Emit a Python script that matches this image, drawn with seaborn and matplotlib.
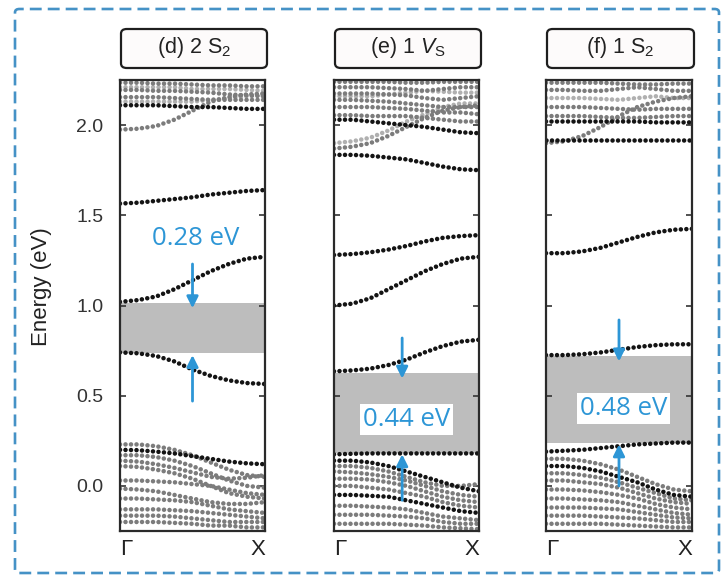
import matplotlib
matplotlib.use("Agg")
import matplotlib.pyplot as plt
import seaborn as sns
from matplotlib.patches import FancyBboxPatch

sns.set_theme(style="white")
plt.rcParams['font.family'] = ['Liberation Sans', 'DejaVu Sans']
plt.rcParams['mathtext.fontset'] = 'custom'
plt.rcParams['mathtext.rm'] = 'Liberation Sans'
plt.rcParams['mathtext.it'] = 'Liberation Sans:italic'

# ---- data -------------------------------------------------------------
k_path = [0.0, 0.125, 0.25, 0.375, 0.5, 0.625, 0.75, 0.875, 1.0]
k_labels = ["Γ", "X"]
y_ticks = [0.0, 0.5, 1.0, 1.5, 2.0]
titles = ["(d) 2 S$_2$", "(e) 1 $\\mathit{V}_\\mathrm{S}$", "(f) 1 S$_2$"]
gap_labels = ["0.28 eV", "0.44 eV", "0.48 eV"]
gap_values = [0.28, 0.44, 0.48]
vbm_values = [0.735, 0.185, 0.24]

# (d) two S2 units
d_defect = [
    [2.11, 2.11, 2.11, 2.105, 2.10, 2.10, 2.095, 2.09, 2.09],
    [1.565, 1.57, 1.58, 1.59, 1.60, 1.615, 1.625, 1.635, 1.64],
    [1.02, 1.03, 1.05, 1.09, 1.14, 1.19, 1.23, 1.26, 1.27],
    [0.74, 0.735, 0.72, 0.69, 0.645, 0.61, 0.585, 0.57, 0.565],
    [0.20, 0.198, 0.19, 0.18, 0.165, 0.15, 0.135, 0.125, 0.12],
]
d_bulk = [
    [2.235, 2.235, 2.23, 2.23, 2.225, 2.22, 2.22, 2.215, 2.215],
    [2.195, 2.195, 2.19, 2.19, 2.185, 2.18, 2.17, 2.165, 2.16],
    [2.155, 2.155, 2.155, 2.15, 2.145, 2.14, 2.14, 2.14, 2.14],
    [1.975, 1.98, 1.995, 2.03, 2.08, 2.13, 2.155, 2.17, 2.175],
    [0.23, 0.23, 0.22, 0.20, 0.17, 0.13, 0.09, 0.06, 0.05],
    [0.17, 0.17, 0.16, 0.14, 0.11, 0.07, 0.03, 0.00, -0.01],
    [0.14, 0.135, 0.12, 0.10, 0.075, 0.05, 0.04, 0.045, 0.06],
    [0.11, 0.105, 0.09, 0.07, 0.04, 0.0, -0.04, -0.06, -0.07],
    [0.03, 0.03, 0.025, 0.02, 0.01, 0.0, -0.02, -0.04, -0.05],
    [-0.015, -0.02, -0.03, -0.05, -0.07, -0.09, -0.10, -0.10, -0.09],
    [-0.07, -0.07, -0.075, -0.08, -0.09, -0.11, -0.13, -0.14, -0.15],
    [-0.13, -0.13, -0.13, -0.135, -0.14, -0.15, -0.16, -0.17, -0.18],
    [-0.165, -0.165, -0.165, -0.17, -0.18, -0.19, -0.20, -0.20, -0.20],
    [-0.20, -0.20, -0.20, -0.205, -0.21, -0.22, -0.22, -0.23, -0.23],
]
d_faint = [
    [2.21, 2.21, 2.21, 2.21, 2.20, 2.20, 2.20, 2.195, 2.19],
    [2.13, 2.13, 2.13, 2.13, 2.13, 2.14, 2.15, 2.16, 2.165],
]

# (e) one S vacancy
e_defect = [
    [2.03, 2.03, 2.02, 2.01, 2.0, 1.99, 1.975, 1.96, 1.955],
    [1.835, 1.835, 1.83, 1.82, 1.81, 1.79, 1.77, 1.755, 1.75],
    [1.28, 1.285, 1.295, 1.31, 1.33, 1.355, 1.375, 1.385, 1.39],
    [1.0, 1.01, 1.04, 1.09, 1.14, 1.19, 1.23, 1.26, 1.27],
    [0.635, 0.64, 0.65, 0.67, 0.70, 0.74, 0.775, 0.80, 0.81],
    [0.175, 0.178, 0.18, 0.18, 0.18, 0.18, 0.18, 0.18, 0.18],
    [0.14, 0.14, 0.13, 0.11, 0.08, 0.05, 0.02, -0.01, -0.03],
    [-0.05, -0.05, -0.055, -0.06, -0.08, -0.10, -0.12, -0.14, -0.15],
]
e_bulk = [
    [2.24, 2.24, 2.24, 2.24, 2.235, 2.235, 2.24, 2.24, 2.24],
    [2.21, 2.21, 2.21, 2.205, 2.20, 2.19, 2.20, 2.21, 2.21],
    [2.175, 2.175, 2.175, 2.17, 2.165, 2.15, 2.14, 2.15, 2.16],
    [2.14, 2.14, 2.135, 2.13, 2.12, 2.11, 2.10, 2.10, 2.10],
    [2.10, 2.10, 2.10, 2.095, 2.09, 2.08, 2.07, 2.07, 2.06],
    [2.055, 2.055, 2.05, 2.05, 2.05, 2.04, 2.03, 2.02, 2.02],
    [1.87, 1.88, 1.90, 1.94, 1.99, 2.04, 2.08, 2.10, 2.11],
    [0.11, 0.11, 0.10, 0.08, 0.05, 0.02, 0.0, 0.0, 0.01],
    [0.08, 0.075, 0.065, 0.05, 0.03, 0.0, -0.03, -0.05, -0.06],
    [0.04, 0.04, 0.035, 0.02, 0.0, -0.03, -0.06, -0.08, -0.09],
    [0.0, 0.0, -0.01, -0.02, -0.04, -0.06, -0.09, -0.11, -0.12],
    [-0.11, -0.11, -0.115, -0.12, -0.13, -0.15, -0.17, -0.18, -0.19],
    [-0.16, -0.16, -0.16, -0.165, -0.17, -0.18, -0.20, -0.21, -0.21],
    [-0.21, -0.21, -0.21, -0.21, -0.215, -0.22, -0.23, -0.235, -0.24],
]
e_faint = [
    [1.90, 1.91, 1.93, 1.97, 2.02, 2.06, 2.10, 2.12, 2.12],
    [2.16, 2.16, 2.16, 2.17, 2.18, 2.19, 2.185, 2.18, 2.18],
]

# (f) one S2 unit
f_defect = [
    [2.02, 2.02, 2.02, 2.02, 2.02, 2.02, 2.015, 2.015, 2.015],
    [1.92, 1.92, 1.92, 1.92, 1.92, 1.92, 1.92, 1.92, 1.92],
    [1.29, 1.29, 1.30, 1.32, 1.35, 1.38, 1.405, 1.42, 1.425],
    [0.725, 0.725, 0.73, 0.74, 0.755, 0.77, 0.78, 0.785, 0.785],
    [0.19, 0.195, 0.20, 0.21, 0.22, 0.23, 0.235, 0.24, 0.24],
    [0.11, 0.11, 0.10, 0.08, 0.05, 0.02, -0.02, -0.05, -0.06],
]
f_bulk = [
    [2.235, 2.235, 2.235, 2.235, 2.23, 2.225, 2.225, 2.23, 2.23],
    [2.195, 2.195, 2.19, 2.19, 2.20, 2.21, 2.20, 2.19, 2.19],
    [2.10, 2.10, 2.10, 2.095, 2.09, 2.085, 2.09, 2.09, 2.09],
    [2.05, 2.05, 2.05, 2.045, 2.04, 2.04, 2.045, 2.05, 2.05],
    [1.90, 1.91, 1.94, 1.99, 2.05, 2.10, 2.13, 2.15, 2.16],
    [0.15, 0.15, 0.14, 0.12, 0.09, 0.05, 0.01, -0.02, -0.03],
    [0.07, 0.07, 0.06, 0.045, 0.02, -0.01, -0.04, -0.07, -0.08],
    [0.03, 0.03, 0.02, 0.01, -0.01, -0.04, -0.07, -0.09, -0.10],
    [-0.02, -0.02, -0.025, -0.035, -0.05, -0.07, -0.10, -0.12, -0.13],
    [-0.07, -0.07, -0.075, -0.08, -0.09, -0.11, -0.13, -0.15, -0.16],
    [-0.12, -0.12, -0.12, -0.125, -0.13, -0.145, -0.16, -0.175, -0.18],
    [-0.165, -0.165, -0.165, -0.17, -0.175, -0.18, -0.19, -0.20, -0.20],
    [-0.21, -0.21, -0.21, -0.21, -0.215, -0.22, -0.225, -0.23, -0.23],
]
f_faint = [
    [2.15, 2.15, 2.15, 2.145, 2.14, 2.15, 2.16, 2.15, 2.15],
]

panels = [
    dict(defect=d_defect, bulk=d_bulk, faint=d_faint),
    dict(defect=e_defect, bulk=e_bulk, faint=e_faint),
    dict(defect=f_defect, bulk=f_bulk, faint=f_faint),
]

# ---- layout / style -----------------------------------------------------
W, H = 723, 578
BLUE = "#2d96d6"
axes_px = [(120, 265), (334, 479), (546, 692)]  # left/right edges in pixels
top_px, bot_px = 80, 531
label_xy = [(0.52, 1.37), (0.50, 0.37), (0.53, 0.43)]
arrow_x = [0.50, 0.47, 0.50]
arrow_down_start = [1.23, 0.82, 0.92]
arrow_up_start = [0.47, -0.08, 0.0]
text_box = [False, True, True]

DOT = (0, (0.001, 1.2))
DOT_LW = 3.3

fig = plt.figure(figsize=(W / 100, H / 100), dpi=100)


def draw_bands(ax, bands, color, lw):
    for band in bands:
        sns.lineplot(x=k_path, y=band, ax=ax, color=color, lw=lw,
                     linestyle=DOT, dash_capstyle="round",
                     estimator=None, sort=False, legend=False)


for i, (panel, (l, r)) in enumerate(zip(panels, axes_px)):
    ax = fig.add_axes([l / W, 1 - bot_px / H, (r - l) / W, (bot_px - top_px) / H])
    ax.set_xlim(0, 1)
    ax.set_ylim(-0.25, 2.25)

    lo = vbm_values[i]
    hi = lo + gap_values[i]
    ax.axhspan(lo, hi, color="#bdbdbd", lw=0, zorder=0.5)

    draw_bands(ax, panel["faint"], "#b0b0b0", DOT_LW)
    draw_bands(ax, panel["bulk"], "#7c7c7c", DOT_LW)
    draw_bands(ax, panel["defect"], "#141414", DOT_LW)

    # gap arrows
    ax.annotate("", xy=(arrow_x[i], hi - 0.03), xytext=(arrow_x[i], arrow_down_start[i]),
                arrowprops=dict(arrowstyle="-|>", color=BLUE, lw=2.0,
                                mutation_scale=17, shrinkA=0, shrinkB=0), zorder=5)
    ax.annotate("", xy=(arrow_x[i], lo - 0.01), xytext=(arrow_x[i], arrow_up_start[i]),
                arrowprops=dict(arrowstyle="-|>", color=BLUE, lw=2.0,
                                mutation_scale=17, shrinkA=0, shrinkB=0), zorder=5)

    bbox = dict(boxstyle="square,pad=0.12", fc="white", ec="none") if text_box[i] else None
    ax.text(label_xy[i][0], label_xy[i][1], gap_labels[i], ha="center", va="center",
            color=BLUE, fontsize=18.5, family=["Open Sans", "DejaVu Sans"],
            bbox=bbox, zorder=6)

    ax.set_xticks([0, 1])
    ax.set_xticklabels(k_labels, fontsize=16, color="#222222")
    ax.get_xticklabels()[0].set_ha("left")
    ax.get_xticklabels()[1].set_ha("right")
    ax.tick_params(axis="x", length=0, pad=6)

    ax.set_yticks(y_ticks)
    ax.tick_params(axis="y", direction="in", length=4, width=1.2, color="#333333",
                   left=True, right=True, labelleft=(i == 0), pad=12,
                   labelsize=14, labelcolor="#333333")
    if i == 0:
        ax.set_yticklabels([f"{v:.1f}" for v in y_ticks])
    ax.set_xlabel("")
    ax.set_ylabel("")
    for sp in ax.spines.values():
        sp.set_color("#2a2a2a")
        sp.set_linewidth(1.6)
        sp.set_visible(True)

    # title badge above each panel
    bx0, bx1 = (l + 1) / W, (r + 2) / W
    by0, by1 = 1 - 68 / H, 1 - 29 / H
    badge = FancyBboxPatch((bx0, by0), bx1 - bx0, by1 - by0,
                           boxstyle="round,pad=0,rounding_size=0.008",
                           transform=fig.transFigure, fc="#fdfbfb", ec="#1e1e1e",
                           lw=1.6, figure=fig)
    fig.patches.append(badge)
    fig.text((bx0 + bx1) / 2, (by0 + by1) / 2 + 0.002, titles[i], ha="center",
             va="center", fontsize=15.5, color="#222222")

fig.text(42 / W, 1 - 287 / H, "Energy (eV)", rotation=90, ha="center", va="center",
         fontsize=16, color="#222222")

# dashed frame around the figure
frame = FancyBboxPatch((15 / W, 1 - 573 / H), (719 - 15) / W, (573 - 9) / H,
                       boxstyle="round,pad=0,rounding_size=0.006",
                       transform=fig.transFigure, fc="none", ec="#4592c6",
                       lw=1.9, linestyle=(0, (4.5, 2.3)), figure=fig)
fig.patches.append(frame)

fig.savefig("out.png", dpi=100, facecolor="white")
